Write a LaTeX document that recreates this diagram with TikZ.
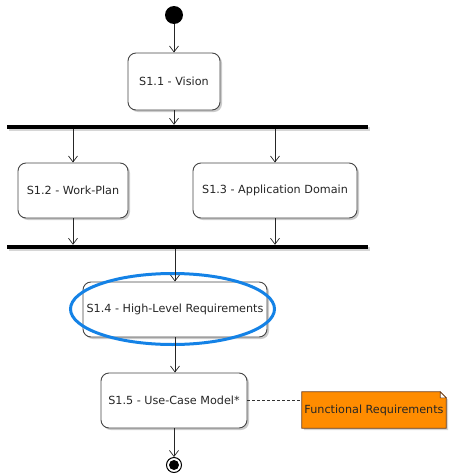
\documentclass[tikz,border=0pt]{standalone}
\usepackage{fontspec}
\setmainfont{DejaVu Sans}
\usetikzlibrary{arrows.meta,shadows,shapes.geometric}

\definecolor{boxline}{RGB}{70,70,70}
\definecolor{notefill}{RGB}{255,140,0}
\definecolor{noteline}{RGB}{110,60,20}
\definecolor{hilite}{RGB}{20,130,230}

\tikzset{
  activity/.style={draw=boxline, line width=0.9pt, fill=white, rounded corners=8pt,
    font=\fontsize{11.2}{13}\selectfont, text=black!85,
    drop shadow={shadow xshift=2pt, shadow yshift=-2pt, fill=black!45, opacity=0.45}},
  syncbar/.style={fill=black, inner sep=0pt, minimum height=4pt,
    drop shadow={shadow xshift=1.5pt, shadow yshift=-2pt, fill=black!40, opacity=0.4}},
  flow/.style={draw=black!85, line width=0.7pt, -{Straight Barb[length=6pt,width=9pt,line width=0.7pt]}},
  notelink/.style={draw=black!80, line width=0.7pt, dash pattern=on 3pt off 2pt},
}

\begin{document}
\begin{tikzpicture}[x=1pt, y=-1pt]
\useasboundingbox (0,0) rectangle (448,474);

% initial and final states
\fill[black] (174,15) circle (9);
\node[circle, inner sep=0pt, minimum size=18pt] (init) at (174,15) {};
\node[circle, draw=black, line width=1pt, fill=white, inner sep=0pt, minimum size=15pt] (final) at (174,465) {};
\fill[black] (final.center) circle (5);

% activities
\node[activity, minimum width=92pt, minimum height=57pt] (vision) at (174,81.5) {S1.1 - Vision};
\node[activity, minimum width=110pt, minimum height=55pt] (plan) at (73,190.5) {S1.2 - Work-Plan};
\node[activity, minimum width=164pt, minimum height=55pt] (domain) at (275,190.5) {S1.3 - Application Domain};
\node[activity, minimum width=184pt, minimum height=55pt] (hlr) at (175,309.5) {S1.4 - High-Level Requirements};
\node[activity, minimum width=146pt, minimum height=55pt] (ucm) at (174,400.5) {S1.5 - Use-Case Model*};

% fork and join bars
\node[syncbar, minimum width=361pt] (fork) at (187.5,127) {};
\node[syncbar, minimum width=361pt] (join) at (187.5,247) {};

% highlight around S1.4
\node[draw=hilite, line width=3pt, ellipse, inner sep=0pt,
      minimum width=204pt, minimum height=71pt] (mark) at (172.5,309) {};

% note with folded corner: outline first, text on top
\node[minimum width=144pt, minimum height=36pt, inner sep=0pt] (note) at (374,410) {};
\fill[black!40, opacity=0.4] ([shift={(2pt,-2pt)}]note.north west) -- ([shift={(-4pt,-2pt)}]note.north east)
  -- ([shift={(2pt,-8pt)}]note.north east) -- ([shift={(2pt,-2pt)}]note.south east)
  -- ([shift={(2pt,-2pt)}]note.south west) -- cycle;
\filldraw[fill=notefill, draw=noteline, line width=0.7pt]
  (note.north west) -- ([xshift=-6pt]note.north east) -- ([yshift=-6pt]note.north east)
  -- (note.south east) -- (note.south west) -- cycle;
\filldraw[fill=white, draw=noteline, line width=0.6pt]
  ([xshift=-6pt]note.north east) -- ([xshift=-6pt,yshift=-6pt]note.north east)
  -- ([yshift=-6pt]note.north east) -- cycle;
\node[font=\fontsize{11.2}{13}\selectfont, text=black!85] (notetext) at (note.center) {Functional Requirements};

% control flow
\draw[flow] (init.south) -- (vision.north);
\draw[flow] (vision.south) -- (vision.south |- fork.north);
\draw[flow] (plan.north |- fork.south) -- (plan.north);
\draw[flow] (domain.north |- fork.south) -- (domain.north);
\draw[flow] (plan.south) -- (plan.south |- join.north);
\draw[flow] (domain.south) -- (domain.south |- join.north);
\draw[flow] (hlr.north |- join.south) -- (hlr.north);
\draw[flow] (hlr.south) -- (hlr.south |- ucm.north);
\draw[flow] (ucm.south) -- (final.north);

% note attachment
\draw[notelink] (ucm.east) -- (ucm.east -| note.west);
\end{tikzpicture}
\end{document}
